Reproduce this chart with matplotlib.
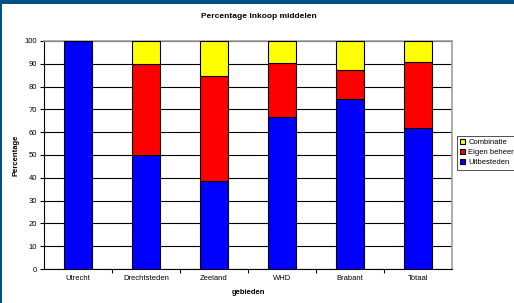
import matplotlib
matplotlib.use("Agg")
import matplotlib.pyplot as plt
import numpy as np
from matplotlib.patches import Rectangle

categories = ["Utrecht", "Drechtsteden", "Zeeland", "WHD", "Brabant", "Totaal"]
uitbesteden = [100, 50, 38.5, 66.5, 74.6, 61.7]
eigen_beheer = [0, 39.8, 46.0, 23.7, 12.7, 29.0]
combinatie = [0, 10.2, 15.5, 9.8, 12.7, 9.3]

plt.rcParams['font.family'] = ['Liberation Sans', 'DejaVu Sans']

fig = plt.figure(figsize=(5.14, 3.03), dpi=100)
fig.patch.set_facecolor('white')
# dark blue frame (top and left)
fig.add_artist(Rectangle((0, 1 - 4/303), 1, 4/303, transform=fig.transFigure,
                         facecolor='#00507F', edgecolor='none'))
fig.add_artist(Rectangle((0, 0), 2/514, 1, transform=fig.transFigure,
                         facecolor='#00507F', edgecolor='none'))

ax = fig.add_axes([44/514, 1 - 269/303, 408/514, 228/303])
x = np.arange(len(categories))
w = 0.41
b1 = ax.bar(x, uitbesteden, w, color='#0000FF', edgecolor='black', linewidth=0.8,
            label='Uitbesteden', zorder=3)
b2 = ax.bar(x, eigen_beheer, w, bottom=uitbesteden, color='#FF0000', edgecolor='black',
            linewidth=0.8, label='Eigen beheer', zorder=3)
bot3 = [a + b for a, b in zip(uitbesteden, eigen_beheer)]
b3 = ax.bar(x, combinatie, w, bottom=bot3, color='#FFFF00', edgecolor='black',
            linewidth=0.8, label='Combinatie', zorder=3)

ax.set_xlim(-0.5, len(categories) - 0.5)
ax.set_ylim(0, 100)
ax.set_yticks(np.arange(0, 101, 10))
ax.yaxis.grid(True, color='black', linewidth=0.8, zorder=0)
ax.set_axisbelow(True)
ax.set_xticks(x)
ax.set_xticklabels(categories, fontsize=5.5)
ax.tick_params(axis='x', length=0, pad=4)
ax.set_xticks(np.arange(0.5, len(categories) - 0.5, 1), minor=True)
ax.tick_params(axis='x', which='minor', length=3, width=0.8, direction='out')
ax.tick_params(axis='y', labelsize=5.5, length=3, width=0.8, pad=2)

for s in ['top', 'right']:
    ax.spines[s].set_color('#A0A0A0')
    ax.spines[s].set_linewidth(1.2)
for s in ['left', 'bottom']:
    ax.spines[s].set_color('black')
    ax.spines[s].set_linewidth(0.8)

ax.set_xlabel('gebieden', fontsize=5.5, fontweight='bold')
ax.xaxis.set_label_coords(0.5, -(292 - 269) / 228, transform=ax.transAxes)
ax.xaxis.label.set_va('center')
ax.set_ylabel('Percentage', fontsize=5.5, fontweight='bold')
ax.yaxis.set_label_coords(-(44 - 16) / 408, 0.5, transform=ax.transAxes)
ax.yaxis.label.set_va('center')
fig.text(259/514, 1 - 16/303, 'Percentage inkoop middelen', fontsize=6,
         fontweight='bold', ha='center', va='center')

handles = [b3, b2, b1]
leg = fig.legend(handles, ['Combinatie', 'Eigen beheer', 'Uitbesteden'],
                 loc='upper left', bbox_to_anchor=(457/514, 1 - 136/303),
                 fontsize=5.5, frameon=True, fancybox=False, handlelength=0.7,
                 handleheight=0.7, handletextpad=0.4, borderpad=0.4,
                 labelspacing=0.35, borderaxespad=0)
leg.get_frame().set_edgecolor('black')
leg.get_frame().set_linewidth(0.6)

fig.savefig('out.png', dpi=100, facecolor='white')
